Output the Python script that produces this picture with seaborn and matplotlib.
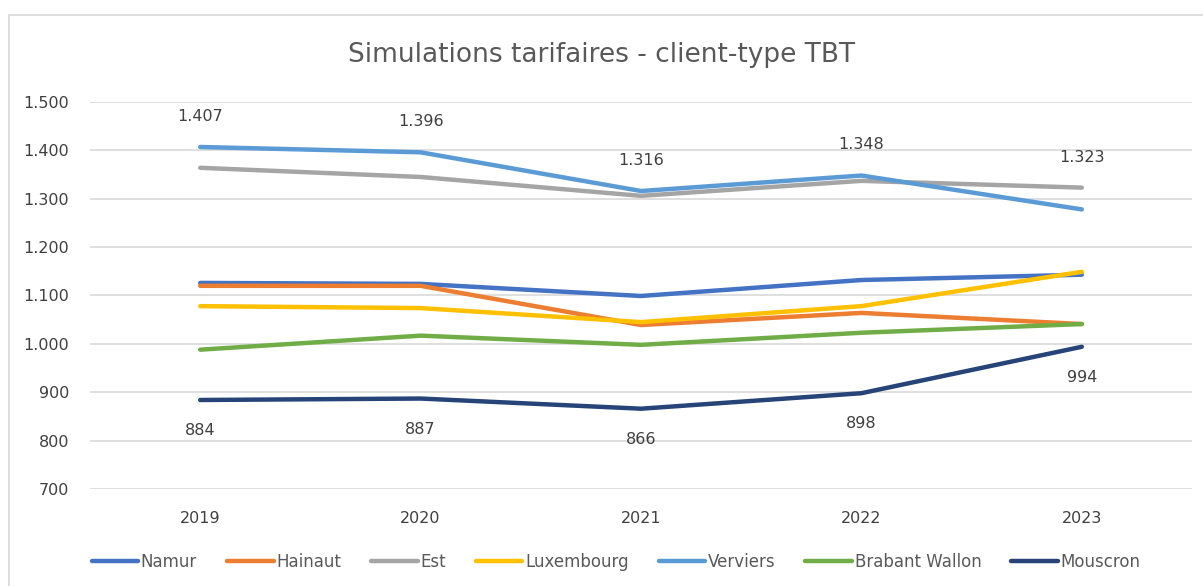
import pandas as pd
import seaborn as sns
import matplotlib.pyplot as plt
from matplotlib.patches import Rectangle
from matplotlib.ticker import FuncFormatter

# Data
years = ["2019", "2020", "2021", "2022", "2023"]
namur = [1126, 1124, 1099, 1132, 1143]
hainaut = [1120, 1120, 1039, 1064, 1041]
est = [1364, 1345, 1306, 1337, 1323]
luxembourg = [1078, 1074, 1045, 1078, 1149]
verviers = [1407, 1396, 1316, 1348, 1278]
brabant_wallon = [988, 1017, 998, 1023, 1041]
mouscron = [884, 887, 866, 898, 994]

series = {
    "Namur": namur,
    "Hainaut": hainaut,
    "Est": est,
    "Luxembourg": luxembourg,
    "Verviers": verviers,
    "Brabant Wallon": brabant_wallon,
    "Mouscron": mouscron,
}
colors = ["#4472C4", "#ED7D31", "#A5A5A5", "#FFC000", "#5B9BD5", "#70AD47", "#264478"]

rows = []
for name, vals in series.items():
    for i, v in enumerate(vals):
        rows.append([name, i, v])
df = pd.DataFrame(rows, columns=["Zone", "Year", "Value"])

sns.set_theme(style="white")
plt.rcParams['font.family'] = ['DejaVu Sans']
txt = "#404040"

fig = plt.figure(figsize=(12.03, 5.86), dpi=100)
fig.patches.append(Rectangle((9 / 1203, -0.05), 1.2, 1 - 15 / 586 + 0.05,
                             transform=fig.transFigure, fill=False,
                             edgecolor="#D9D9D9", lw=1.2))
ax = fig.add_axes([90 / 1203, 1 - 489 / 586, (1192 - 90) / 1203, (489 - 102) / 586])

sns.lineplot(data=df, x="Year", y="Value", hue="Zone", palette=colors,
             hue_order=list(series.keys()), linewidth=3.2, ax=ax,
             solid_capstyle="round")

ax.set_xlim(-0.5, 4.5)
ax.set_ylim(700, 1500)
ax.set_yticks(range(700, 1501, 100))
ax.yaxis.set_major_formatter(FuncFormatter(lambda v, p: f"{int(v):,}".replace(",", ".")))
ax.set_xticks(range(len(years)))
ax.set_xticklabels(years)
ax.grid(axis="y", color="#D9D9D9", lw=1.2)
for s in ax.spines.values():
    s.set_visible(False)
ax.tick_params(axis="both", length=0, labelsize=11.5, labelcolor=txt)
ax.tick_params(axis="y", pad=15)
ax.tick_params(axis="x", pad=16)
ax.set_xlabel("")
ax.set_ylabel("")

# data labels: top value above, Mouscron below
fmt = lambda v: f"{v:,}".replace(",", ".")
for i in range(len(years)):
    top = max(vals[i] for vals in series.values())
    ax.annotate(fmt(top), (i, top), xytext=(0, 22), textcoords="offset points",
                ha="center", va="center", fontsize=11.5, color=txt)
    ax.annotate(fmt(mouscron[i]), (i, mouscron[i]), xytext=(0, -22), textcoords="offset points",
                ha="center", va="center", fontsize=11.5, color=txt)

fig.text(0.5, 1 - 55 / 586, "Simulations tarifaires - client-type TBT",
         ha="center", va="center", fontsize=19, color="#595959")

handles, labels = ax.get_legend_handles_labels()
ax.legend(handles, labels, loc="center", bbox_to_anchor=(0.5 - 25 / 1102, -(562 - 489) / 387),
          ncol=7, frameon=False, fontsize=12, handlelength=2.8, handletextpad=0.15,
          columnspacing=1.8, labelcolor="#595959")

fig.savefig("out.png", dpi=100)
